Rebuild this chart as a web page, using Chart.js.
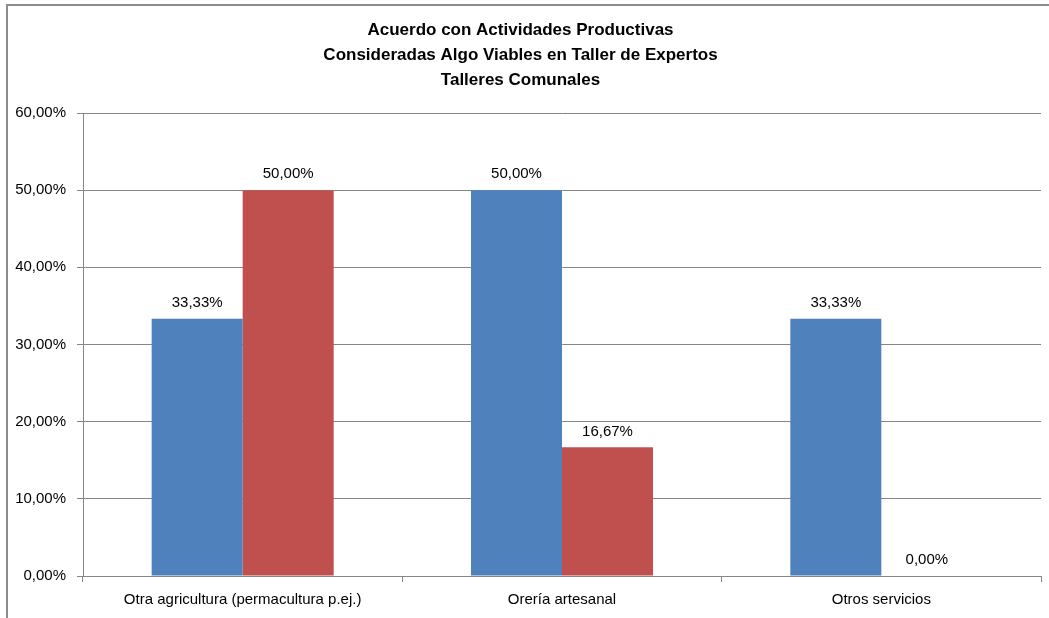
<!DOCTYPE html>
<html>
<head>
<meta charset="utf-8">
<script src="https://cdn.jsdelivr.net/npm/chart.js@4/dist/chart.umd.min.js"></script>
<style>
  html, body { margin: 0; padding: 0; background: #fff; }
  #wrap { position: relative; width: 1049px; height: 618px; overflow: hidden; }
  #frame { position: absolute; left: 6px; top: 4px; width: 1100px; height: 700px; border: 2px solid #8c8c8c; box-sizing: border-box; }
  #c { position: absolute; left: 0; top: 0; }
</style>
</head>
<body>
<div id="wrap">
  <div id="frame"></div>
  <canvas id="c" width="1049" height="618"></canvas>
</div>
<script>
// datos
var categorias = ['Otra agricultura (permacultura p.ej.)', 'Orería artesanal', 'Otros servicios'];
var serieAzul = [33.33, 50.00, 33.33];
var serieRoja = [50.00, 16.67, 0.00];
var ticksY = [0, 10, 20, 30, 40, 50, 60];

var fuente = "'Liberation Sans', 'DejaVu Sans', sans-serif";

function fmt(v) {
  return v.toFixed(2).replace('.', ',') + '%';
}

// etiquetas encima de las barras
var etiquetas = {
  id: 'etiquetas',
  afterDatasetsDraw: function(chart) {
    var ctx = chart.ctx;
    ctx.save();
    ctx.font = '15px ' + fuente;
    ctx.fillStyle = '#000';
    ctx.textAlign = 'center';
    ctx.textBaseline = 'middle';
    chart.data.datasets.forEach(function(ds, i) {
      chart.getDatasetMeta(i).data.forEach(function(bar, j) {
        ctx.fillText(fmt(ds.data[j]), bar.x, bar.y - 16);
      });
    });
    ctx.restore();
  }
};

var config = {
  type: 'bar',
  data: {
    labels: categorias,
    datasets: [{
      data: serieAzul,
      backgroundColor: '#4F81BD',
      borderWidth: 0
    }, {
      data: serieRoja,
      backgroundColor: '#C0504D',
      borderWidth: 0
    }]
  },
  options: {
    responsive: false,
    animation: false,
    layout: { padding: { left: 0, right: 8, top: 0, bottom: 0 } },
    datasets: { bar: { categoryPercentage: 0.57, barPercentage: 1 } },
    plugins: {
      legend: { display: false },
      tooltip: { enabled: false },
      title: {
        display: true,
        text: ['Acuerdo con Actividades Productivas', 'Consideradas Algo Viables en Taller de Expertos', 'Talleres Comunales'],
        color: '#000',
        font: { family: fuente, size: 17, weight: 'bold', lineHeight: '25px' },
        padding: { top: 18, bottom: 20 }
      }
    },
    scales: {
      x: {
        offset: true,
        grid: { offset: true, drawOnChartArea: false, drawTicks: true, tickLength: 6, color: '#868686' },
        border: { color: '#868686', width: 1 },
        ticks: { color: '#000', font: { family: fuente, size: 15 }, padding: 9, maxRotation: 0 },
        afterFit: function(s) { s.height = 42; }
      },
      y: {
        min: 0,
        max: 60,
        afterBuildTicks: function(s) { s.ticks = ticksY.map(function(v) { return { value: v }; }); },
        grid: { color: '#868686', tickLength: 6 },
        border: { color: '#868686', width: 1 },
        ticks: {
          color: '#000',
          font: { family: fuente, size: 15 },
          padding: 11,
          callback: function(v) { return fmt(v); }
        },
        afterFit: function(s) { s.width = 83; }
      }
    }
  },
  plugins: [etiquetas]
};

var ctx = document.getElementById('c').getContext('2d');
window.grafico = new Chart(ctx, config);
</script>
</body>
</html>
